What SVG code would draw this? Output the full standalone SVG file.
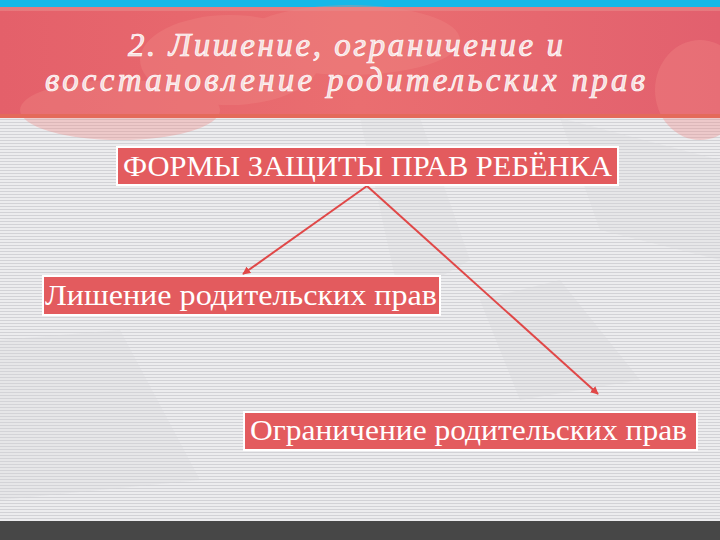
<svg xmlns="http://www.w3.org/2000/svg" width="720" height="540" viewBox="0 0 720 540">
  <defs>
    <pattern id="stripes" width="4" height="3" patternUnits="userSpaceOnUse">
      <rect width="4" height="3" fill="#ececee"/>
      <rect y="2" width="4" height="1" fill="#d2d2d6"/>
    </pattern>
    <linearGradient id="hdr" x1="0" y1="0" x2="1" y2="0">
      <stop offset="0" stop-color="#e4606a"/>
      <stop offset="0.5" stop-color="#ea6e70"/>
      <stop offset="1" stop-color="#e2606e"/>
    </linearGradient>
    <marker id="ah" viewBox="0 0 10 10" refX="9" refY="5" markerWidth="8" markerHeight="8" orient="auto" markerUnits="userSpaceOnUse">
      <path d="M0,0 L10,5 L0,10 z" fill="#e04848"/>
    </marker>
    <style>
      .box { fill: #e35b5e; stroke: #ffffff; stroke-width: 2; }
      .lbl { font-family: "Liberation Serif", "DejaVu Serif", serif; fill: #ffffff; font-size: 29px; }
      .ttl { font-family: "Liberation Serif", "DejaVu Serif", serif; font-style: italic; font-size: 33px; fill: #f6dcdc; stroke: #ffffff; stroke-width: 0.7; }
      .conn { stroke: #e04848; stroke-width: 2; fill: none; }
    </style>
  </defs>

  <!-- background -->
  <rect width="720" height="540" fill="url(#stripes)"/>
  <g fill="#d6d6da" opacity="0.3">
    <polygon points="360,118 420,118 470,260 400,300"/>
    <polygon points="560,118 720,160 720,260 600,230"/>
    <polygon points="0,340 120,330 200,480 0,500"/>
    <polygon points="480,300 560,280 640,380 520,400"/>
  </g>
  <!-- header -->
  <rect x="0" y="0" width="720" height="7" fill="#16b8e8"/>
  <rect x="0" y="7" width="720" height="111" fill="url(#hdr)"/>
  <g fill="#f08a86" opacity="0.35">
    <ellipse cx="230" cy="60" rx="90" ry="45"/>
    <ellipse cx="350" cy="40" rx="110" ry="35"/>
    <ellipse cx="120" cy="110" rx="100" ry="30"/>
    <ellipse cx="700" cy="90" rx="45" ry="50"/>
  </g>
  <rect x="0" y="7" width="720" height="4" fill="#e88a8a" opacity="0.6"/>
  <rect x="0" y="114" width="720" height="4" fill="#e46a5a"/>
  <text class="ttl" x="128" y="56" textLength="435" lengthAdjust="spacing">2. Лишение, ограничение и</text>
  <text class="ttl" x="45" y="91" textLength="600" lengthAdjust="spacing">восстановление родительских прав</text>

  <!-- bottom bar -->
  <rect x="0" y="521" width="720" height="19" fill="#474747"/>

  <!-- connectors -->
  <g id="connectors">
    <line class="conn" x1="367" y1="186" x2="243" y2="274" marker-end="url(#ah)"/>
    <line class="conn" x1="367" y1="186" x2="598" y2="394" marker-end="url(#ah)"/>
  </g>

  <!-- nodes -->
  <g id="node-forms">
    <rect class="box" x="117" y="147" width="501" height="38"/>
    <text class="lbl" x="123" y="176" textLength="489" lengthAdjust="spacingAndGlyphs">ФОРМЫ ЗАЩИТЫ ПРАВ РЕБЁНКА</text>
  </g>
  <g id="node-deprivation">
    <rect class="box" x="43" y="276" width="397" height="39"/>
    <text class="lbl" x="45" y="305" textLength="392" lengthAdjust="spacingAndGlyphs">Лишение родительских прав</text>
  </g>
  <g id="node-restriction">
    <rect class="box" x="244" y="412" width="453" height="38"/>
    <text class="lbl" x="250" y="440" textLength="437" lengthAdjust="spacingAndGlyphs">Ограничение родительских прав</text>
  </g>
</svg>
